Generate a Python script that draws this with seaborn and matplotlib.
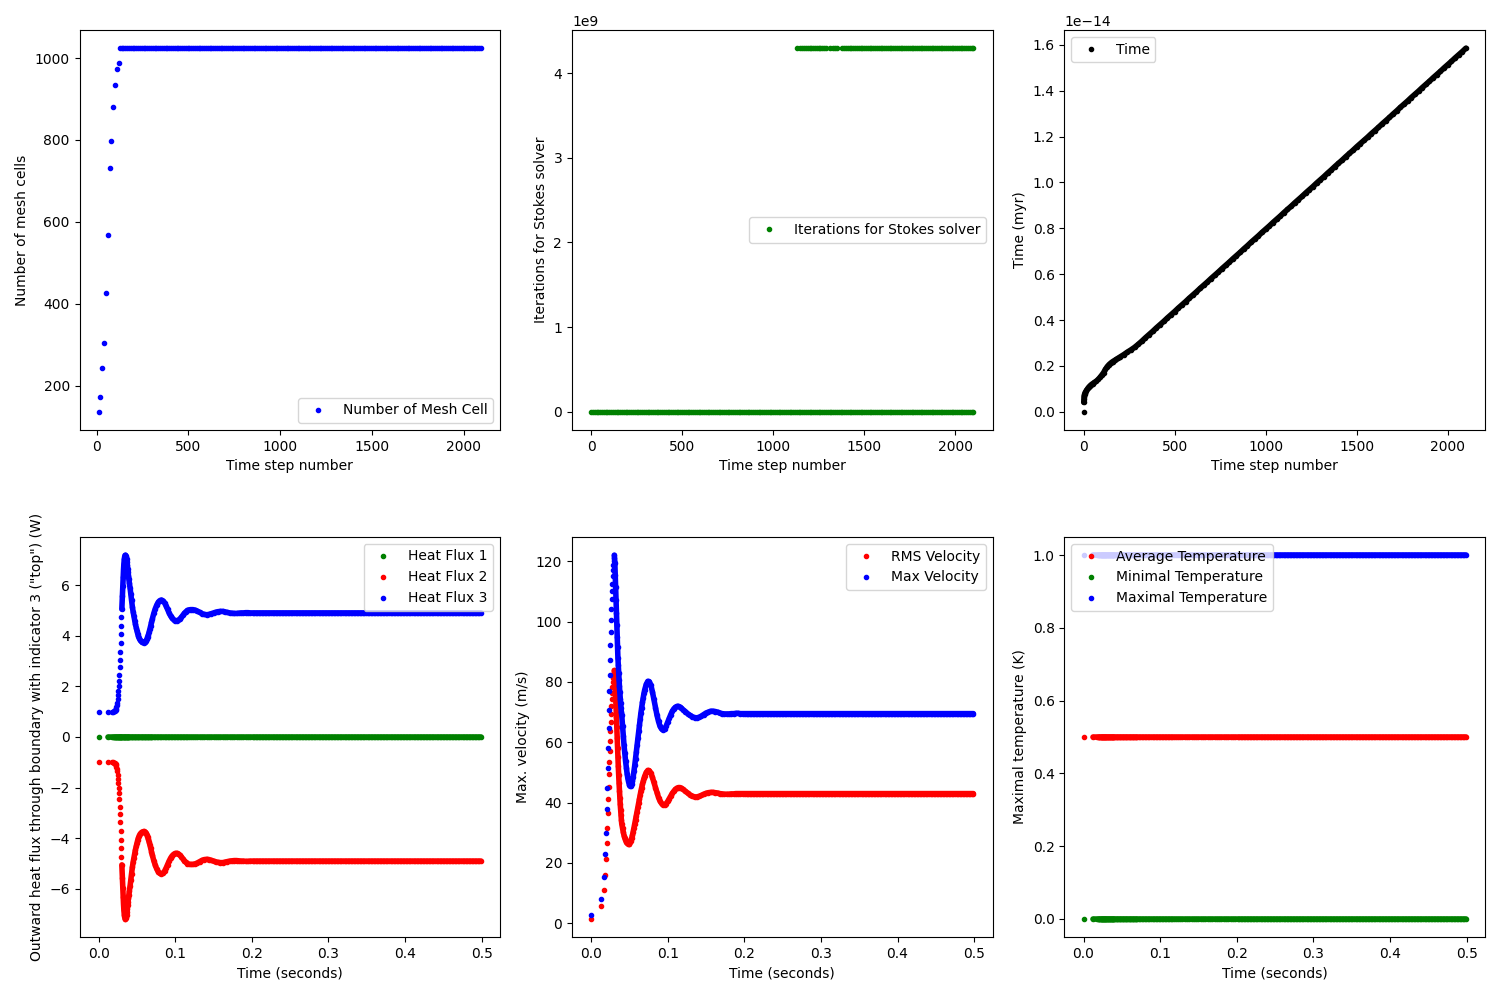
import numpy as np
import pandas as pd
import seaborn as sns
import matplotlib.pyplot as plt

# ---- top row: per time step ----
mesh_steps = [10, 20, 30, 40, 50, 60, 70, 80, 90, 100, 110, 120]
mesh_cells = [136, 171, 243, 305, 425, 567, 732, 798, 881, 935, 972, 989]
mesh_final = 1024
plateau_steps = list(range(125, 2101, 10))

stokes_zero_steps = list(range(0, 2101, 10))
stokes_fail_steps = ([1130] + list(range(1150, 1291, 10)) + [1310, 1330, 1340, 1350]
                     + list(range(1380, 2101, 10)))
stokes_fail_value = 4294967295

time_steps = [0, 1, 2, 3, 4, 5, 6, 8, 10, 13, 16, 20, 25, 30, 35, 40, 50, 60, 70, 80,
              90, 100, 110, 120, 130, 140, 150, 160, 170, 180, 190, 200, 220, 240, 260,
              280, 300] + list(range(320, 2101, 20))
# time in units of 1e-14 myr
time_myr = [0.0, 0.041, 0.055, 0.064, 0.070, 0.075, 0.078, 0.082, 0.085, 0.089, 0.093,
            0.098, 0.104, 0.109, 0.113, 0.117, 0.123, 0.128, 0.134, 0.141, 0.150, 0.160,
            0.171, 0.185, 0.197, 0.206, 0.213, 0.219, 0.224, 0.229, 0.234, 0.239, 0.249,
            0.260, 0.270, 0.281, 0.294,
            0.308, 0.323, 0.337, 0.351, 0.366, 0.380, 0.394, 0.409, 0.423, 0.437,
            0.452, 0.466, 0.480, 0.495, 0.509, 0.523, 0.538, 0.552, 0.566, 0.581,
            0.595, 0.609, 0.624, 0.638, 0.652, 0.667, 0.681, 0.695, 0.710, 0.724,
            0.739, 0.753, 0.767, 0.782, 0.796, 0.810, 0.825, 0.839, 0.853, 0.868,
            0.882, 0.896, 0.911, 0.925, 0.939, 0.954, 0.968, 0.982, 0.997, 1.011,
            1.025, 1.040, 1.054, 1.069, 1.083, 1.097, 1.112, 1.126, 1.140, 1.155,
            1.169, 1.183, 1.197, 1.212, 1.226, 1.240, 1.255, 1.269, 1.283, 1.298,
            1.312, 1.327, 1.341, 1.355, 1.370, 1.384, 1.398, 1.413, 1.427, 1.441,
            1.456, 1.470, 1.484, 1.499, 1.513, 1.527, 1.542, 1.556, 1.570, 1.585]

# ---- bottom row: per time (seconds) ----
time_sec = [0.0, 0.0127, 0.0173, 0.0186, 0.0195, 0.0203, 0.0208, 0.0216, 0.0222, 0.0229,
            0.0233, 0.0238, 0.0242, 0.0247, 0.0251, 0.0255, 0.0260, 0.0264, 0.0268, 0.0273,
            0.0277, 0.0281, 0.0286, 0.0290, 0.0294, 0.0298, 0.0303,
            0.0310, 0.0315, 0.0320, 0.0325, 0.0330, 0.0335, 0.0340, 0.0345, 0.0350, 0.0355,
            0.0360, 0.0365, 0.0370, 0.0375, 0.0380, 0.0385, 0.0390, 0.0395,
            0.040, 0.041, 0.042, 0.043, 0.044, 0.045, 0.046, 0.047, 0.048, 0.049, 0.050,
            0.051, 0.052, 0.053, 0.054, 0.055, 0.056, 0.057, 0.058, 0.059, 0.060, 0.061,
            0.062, 0.063, 0.064, 0.065, 0.066, 0.067, 0.068, 0.069, 0.070,
            0.072, 0.074, 0.076, 0.078, 0.080, 0.082, 0.084, 0.086, 0.088, 0.090, 0.092,
            0.094, 0.096, 0.098, 0.100, 0.102, 0.104, 0.106, 0.108, 0.110, 0.112, 0.114,
            0.116, 0.118, 0.120,
            0.123, 0.126, 0.129, 0.132, 0.135, 0.138, 0.141, 0.144, 0.147, 0.150, 0.153,
            0.156, 0.159, 0.162, 0.165, 0.168, 0.171, 0.174, 0.177, 0.180, 0.183, 0.186,
            0.189, 0.192, 0.195, 0.198]
time_tail = list(np.round(np.arange(0.201, 0.5005, 0.002), 3))

heat_flux_3 = [1.0, 1.0, 1.0, 1.0, 1.01, 1.02, 1.03, 1.05, 1.08, 1.12, 1.17, 1.25, 1.35,
               1.5, 1.65, 1.8, 2.0, 2.2, 2.45, 2.75, 3.05, 3.35, 3.7, 4.05, 4.4, 4.75, 5.05,
               5.55, 5.95, 6.3, 6.6, 6.85, 7.02, 7.12, 7.17, 7.18, 7.16, 7.1, 7.01, 6.9,
               6.78, 6.65, 6.5, 6.35, 6.22,
               6.1, 5.9, 5.65, 5.4, 5.15, 4.95, 4.78, 4.6, 4.46, 4.32, 4.2, 4.08, 3.98,
               3.9, 3.84, 3.8, 3.77, 3.75, 3.74, 3.73, 3.74, 3.77, 3.81, 3.87, 3.95, 4.04,
               4.15, 4.27, 4.4, 4.53, 4.65,
               4.88, 5.07, 5.22, 5.33, 5.39, 5.41, 5.38, 5.3, 5.18, 5.04, 4.9, 4.78, 4.69,
               4.63, 4.6, 4.59, 4.61, 4.66, 4.73, 4.81, 4.89, 4.95, 5.0, 5.02, 5.03,
               5.03, 5.01, 4.97, 4.92, 4.87, 4.84, 4.83, 4.84, 4.87, 4.9, 4.93, 4.95, 4.96,
               4.96, 4.94, 4.92, 4.9, 4.89, 4.88, 4.88, 4.89, 4.9, 4.9, 4.91, 4.91, 4.9]
heat_flux_2 = [-1.0, -1.0, -1.0, -1.0, -1.01, -1.02, -1.03, -1.05, -1.08, -1.12, -1.17,
               -1.25, -1.35, -1.5, -1.65, -1.8, -2.0, -2.2, -2.45, -2.75, -3.05, -3.35,
               -3.7, -4.05, -4.4, -4.75, -5.05,
               -5.55, -5.95, -6.3, -6.6, -6.85, -7.02, -7.12, -7.17, -7.18, -7.16, -7.1,
               -7.01, -6.9, -6.78, -6.65, -6.5, -6.35, -6.22,
               -6.1, -5.9, -5.65, -5.4, -5.15, -4.95, -4.78, -4.6, -4.46, -4.32, -4.2,
               -4.08, -3.98, -3.9, -3.84, -3.8, -3.77, -3.75, -3.74, -3.73, -3.74, -3.77,
               -3.81, -3.87, -3.95, -4.04, -4.15, -4.27, -4.4, -4.53, -4.65,
               -4.88, -5.07, -5.22, -5.33, -5.39, -5.41, -5.38, -5.3, -5.18, -5.04, -4.9,
               -4.78, -4.69, -4.63, -4.6, -4.59, -4.61, -4.66, -4.73, -4.81, -4.89, -4.95,
               -5.0, -5.02, -5.03,
               -5.03, -5.01, -4.97, -4.92, -4.87, -4.84, -4.83, -4.84, -4.87, -4.9, -4.93,
               -4.95, -4.96, -4.96, -4.94, -4.92, -4.9, -4.89, -4.88, -4.88, -4.89, -4.9,
               -4.9, -4.91, -4.91, -4.9]
heat_flux_1 = 0.0
hf3_final, hf2_final = 4.9, -4.9

vel_max = [2.6, 8.1, 15.3, 23.0, 30.1, 37.8, 45.0, 51.6, 58.2, 64.8, 70.8, 76.9, 82.4,
           87.3, 92.3, 96.7, 100.5, 104.2, 107.5, 110.1, 112.6, 115.0, 117.0, 118.8, 120.2,
           121.2, 122.0,
           119.5, 115.5, 111.5, 107.0, 103.0, 99.0, 95.0, 91.5, 88.0, 85.5, 83.0, 80.5,
           78.5, 76.5, 74.5, 73.0, 71.5, 70.0,
           69.0, 65.5, 62.0, 59.0, 56.3, 53.8, 51.6, 49.6, 48.0, 46.8, 45.9, 45.5, 45.6,
           46.2, 47.2, 48.6, 50.4, 52.4, 54.6, 56.9, 59.2, 61.5, 63.7, 65.8, 67.8, 69.7,
           71.5, 73.2, 74.8, 76.2, 77.4,
           79.2, 80.2, 80.1, 78.9, 76.8, 74.2, 71.5, 69.0, 66.9, 65.3, 64.4, 64.1, 64.5,
           65.4, 66.7, 68.0, 69.2, 70.3, 71.1, 71.6, 71.9, 71.9, 71.7, 71.3, 70.8,
           70.2, 69.5, 68.9, 68.5, 68.2, 68.1, 68.3, 68.7, 69.2, 69.7, 70.0, 70.3, 70.3,
           70.2, 70.0, 69.7, 69.5, 69.4, 69.4, 69.4, 69.5, 69.5, 69.6, 69.6, 69.5, 69.5]
vel_rms = [1.5, 5.7, 10.9, 16.1, 21.3, 26.6, 31.6, 36.4, 41.1, 45.3, 49.4, 53.3, 57.0,
           60.4, 63.6, 66.6, 69.4, 72.0, 74.3, 76.4, 78.3, 79.9, 81.2, 82.3, 83.1, 83.6,
           83.8,
           82.0, 79.0, 75.5, 72.0, 68.5, 65.0, 61.5, 58.0, 55.0, 52.0, 49.0, 46.5, 44.0,
           41.7, 39.6, 37.7, 36.0, 34.4,
           33.0, 31.5, 30.2, 29.1, 28.2, 27.5, 27.0, 26.6, 26.4, 26.3, 26.4, 26.8, 27.4,
           28.2, 29.2, 30.4, 31.7, 33.0, 34.2, 35.6, 37.0, 38.4, 39.8, 41.2, 42.5, 43.8,
           45.0, 46.1, 47.1, 48.0, 48.8,
           50.0, 50.7, 50.6, 49.8, 48.4, 46.7, 44.9, 43.2, 41.7, 40.5, 39.7, 39.3, 39.3,
           39.7, 40.4, 41.3, 42.2, 43.1, 43.8, 44.4, 44.8, 45.0, 45.0, 44.8, 44.4,
           43.8, 43.2, 42.6, 42.2, 41.9, 41.9, 42.1, 42.4, 42.8, 43.1, 43.3, 43.4, 43.4,
           43.3, 43.2, 43.0, 42.9, 42.8, 42.8, 42.8, 42.9, 42.9, 43.0, 43.0, 43.0, 43.0]
vmax_final, vrms_final = 69.5, 43.0

temp_avg, temp_min, temp_max = 0.5, 0.0, 1.0

# ---- tables ----
n_tail = len(time_tail)
bottom = pd.DataFrame({
    'time': time_sec + time_tail,
    'hf1': [heat_flux_1] * (len(time_sec) + n_tail),
    'hf2': heat_flux_2 + [hf2_final] * n_tail,
    'hf3': heat_flux_3 + [hf3_final] * n_tail,
    'vrms': vel_rms + [vrms_final] * n_tail,
    'vmax': vel_max + [vmax_final] * n_tail,
})
bottom['tavg'] = temp_avg
bottom['tmin'] = temp_min
bottom['tmax'] = temp_max

mesh = pd.DataFrame({'step': mesh_steps + plateau_steps,
                     'cells': mesh_cells + [mesh_final] * len(plateau_steps)})
stokes = pd.DataFrame({'step': stokes_zero_steps + stokes_fail_steps,
                       'iters': [0] * len(stokes_zero_steps)
                       + [stokes_fail_value] * len(stokes_fail_steps)})
tstep = pd.DataFrame({'step': time_steps, 'time': np.array(time_myr) * 1e-14})


def dots(ax, data, x, y, color, label, dense_from=None):
    # dense stretches of the record show up as a solid stroke of dots
    if dense_from is not None:
        part = data.iloc[dense_from:]
        sns.lineplot(data=part, x=x, y=y, ax=ax, color=color, linewidth=4,
                     solid_capstyle='round', solid_joinstyle='round',
                     estimator=None, sort=False)
    sns.lineplot(data=data, x=x, y=y, ax=ax, color=color, marker='.', markersize=6,
                 markeredgecolor=color, markeredgewidth=1, linestyle='',
                 estimator=None, sort=False, label=label)


fig, axes = plt.subplots(2, 3, figsize=(15, 10), dpi=100)
fig.subplots_adjust(left=0.053, right=0.99, bottom=0.063, top=0.97,
                    wspace=0.171, hspace=0.2675)

ax = axes[0, 0]
dots(ax, mesh, 'step', 'cells', 'b', 'Number of Mesh Cell')
ax.set_xlabel('Time step number')
ax.set_ylabel('Number of mesh cells')
ax.legend(loc='lower right')

ax = axes[0, 1]
dots(ax, stokes, 'step', 'iters', 'g', 'Iterations for Stokes solver')
ax.set_xlabel('Time step number')
ax.set_ylabel('Iterations for Stokes solver')
ax.legend(loc='center right')

ax = axes[0, 2]
dots(ax, tstep, 'step', 'time', 'k', 'Time', dense_from=1)
ax.set_xlabel('Time step number')
ax.set_ylabel('Time (myr)')
ax.legend(loc='upper left')

ax = axes[1, 0]
dots(ax, bottom, 'time', 'hf1', 'g', 'Heat Flux 1', dense_from=1)
dots(ax, bottom, 'time', 'hf2', 'r', 'Heat Flux 2', dense_from=26)
dots(ax, bottom, 'time', 'hf3', 'b', 'Heat Flux 3', dense_from=26)
ax.set_xlabel('Time (seconds)')
ax.set_ylabel('Outward heat flux through boundary with indicator 3 ("top") (W)')
ax.legend(loc='upper right')

ax = axes[1, 1]
dots(ax, bottom, 'time', 'vrms', 'r', 'RMS Velocity', dense_from=26)
dots(ax, bottom, 'time', 'vmax', 'b', 'Max Velocity', dense_from=26)
ax.set_xlabel('Time (seconds)')
ax.set_ylabel('Max. velocity (m/s)')
ax.legend(loc='upper right')

ax = axes[1, 2]
dots(ax, bottom, 'time', 'tavg', 'r', 'Average Temperature', dense_from=1)
dots(ax, bottom, 'time', 'tmin', 'g', 'Minimal Temperature', dense_from=1)
dots(ax, bottom, 'time', 'tmax', 'b', 'Maximal Temperature', dense_from=1)
ax.set_xlabel('Time (seconds)')
ax.set_ylabel('Maximal temperature (K)')
ax.legend(loc='upper left')

plt.savefig('out.png', dpi=100)
